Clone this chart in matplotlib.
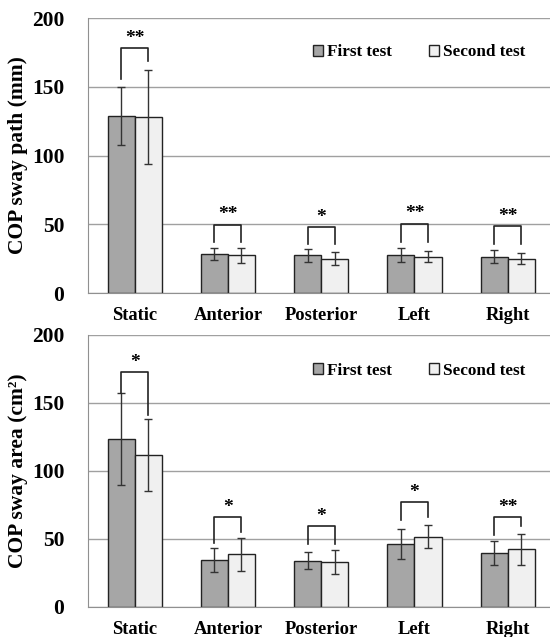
import matplotlib
matplotlib.use("Agg")
import matplotlib.pyplot as plt
import numpy as np

plt.rcParams["font.family"] = ["Liberation Serif", "DejaVu Serif"]
plt.rcParams["font.weight"] = "bold"

categories = ["Static", "Anterior", "Posterior", "Left", "Right"]
series = ["First test", "Second test"]

# COP sway path (mm)
path_first = [129, 28.5, 27.5, 27.5, 26.5]
path_first_sd = [21, 4.6, 4.7, 5.0, 4.6]
path_second = [128, 27.5, 25, 26.5, 25]
path_second_sd = [34, 5.5, 4.8, 4.2, 4.0]
path_stars = ["**", "**", "*", "**", "**"]
path_bracket_top = [178, 49.6, 47.7, 50.4, 48.4]
path_bracket_left = [156, 37.4, 35.8, 37.4, 36]
path_bracket_right = [169, 37.4, 35.8, 37.4, 36]

# COP sway area (cm2)
area_first = [123.3, 34.6, 34, 46.5, 39.7]
area_first_sd = [33.7, 8.5, 6.4, 11, 9]
area_second = [112, 38.7, 33.1, 51.7, 42.4]
area_second_sd = [26.5, 12, 9, 8.5, 11.4]
area_stars = ["*", "*", "*", "*", "**"]
area_bracket_top = [172.6, 66, 59.3, 77.2, 66]
area_bracket_left = [157, 46.8, 46.3, 64, 53]
area_bracket_right = [141, 55.4, 46.3, 66.4, 59.5]

yticks = [0, 50, 100, 150, 200]

fig = plt.figure(figsize=(5.5, 6.37), dpi=100)
ax_top = fig.add_axes([0.16, 0.540, 0.848, 0.4317])
ax_bot = fig.add_axes([0.16, 0.0471, 0.848, 0.427])

width = 0.29
c_first = "#a6a6a6"
c_second = "#f0f0f0"


def draw_panel(ax, first, first_sd, second, second_sd, stars, btop, bleft, bright,
               ylabel, legend_y):
    x = np.arange(len(categories))
    ax.set_axisbelow(True)
    ax.yaxis.grid(True, color="#a0a0a0", lw=1.0)
    ax.bar(x - width / 2, first, width, color=c_first, edgecolor="#222222", lw=1.0,
           label=series[0], zorder=2)
    ax.bar(x + width / 2, second, width, color=c_second, edgecolor="#222222", lw=1.0,
           label=series[1], zorder=2)
    ax.errorbar(x - width / 2, first, yerr=first_sd, fmt="none", ecolor="#333333",
                elinewidth=1.0, capsize=3, capthick=1.0, zorder=3)
    ax.errorbar(x + width / 2, second, yerr=second_sd, fmt="none", ecolor="#333333",
                elinewidth=1.0, capsize=3, capthick=1.0, zorder=3)
    for i in range(len(categories)):
        xl, xr = x[i] - width / 2, x[i] + width / 2
        ax.plot([xl, xl, xr, xr], [bleft[i], btop[i], btop[i], bright[i]],
                color="#222222", lw=1.2, zorder=4)
        ax.text(x[i], btop[i] + 1, stars[i], ha="center", va="bottom",
                fontsize=14, fontweight="bold")
    ax.set_xlim(-0.5, 4.5)
    ax.set_ylim(0, 200)
    ax.set_yticks(yticks)
    ax.set_xticks(x)
    ax.set_xticklabels(categories)
    ax.tick_params(axis="y", length=0, labelsize=15.5, pad=17)
    ax.tick_params(axis="x", length=0, labelsize=13.3, pad=10)
    for s in ["top", "right"]:
        ax.spines[s].set_visible(False)
    ax.spines["left"].set_color("#909090")
    ax.spines["bottom"].set_color("#909090")
    ax.set_ylabel(ylabel, fontsize=15.5, fontweight="bold")
    ax.yaxis.set_label_coords(-0.128, 0.5)
    ax.legend(loc="center", bbox_to_anchor=(0.71, legend_y), ncol=2, frameon=False,
              fontsize=12.3, handlelength=0.6, handleheight=0.6,
              handletextpad=0.2, columnspacing=2.2)


draw_panel(ax_top, path_first, path_first_sd, path_second, path_second_sd, path_stars,
           path_bracket_top, path_bracket_left, path_bracket_right,
           "COP sway path (mm)", 0.876)
draw_panel(ax_bot, area_first, area_first_sd, area_second, area_second_sd, area_stars,
           area_bracket_top, area_bracket_left, area_bracket_right,
           "COP sway area (cm²)", 0.868)

fig.savefig("out.png", dpi=100)
